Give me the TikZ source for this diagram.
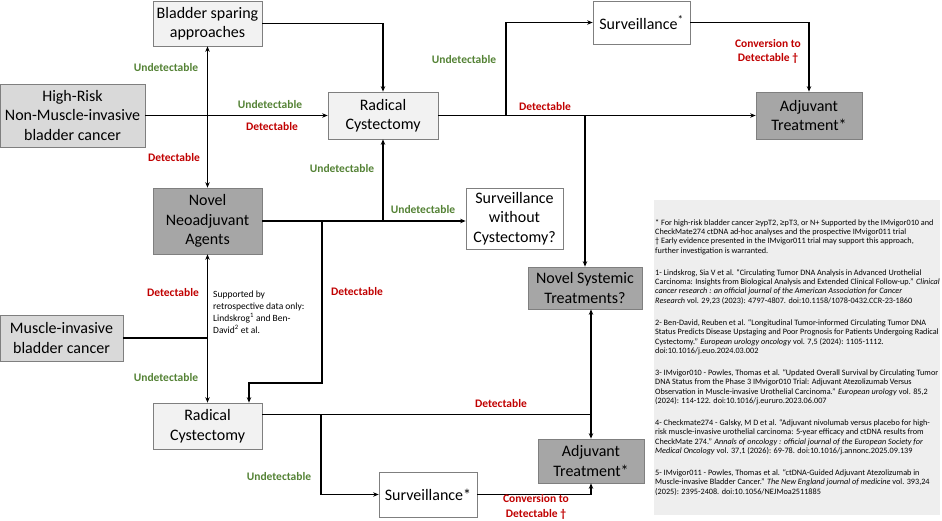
\documentclass[tikz,border=0pt]{standalone}
\usepackage{fontspec}
\setmainfont{Carlito}
\newfontfamily\symfont{Liberation Sans}
\usetikzlibrary{arrows.meta}

\definecolor{lightbox}{HTML}{F2F2F2}
\definecolor{midbox}{HTML}{D9D9D9}
\definecolor{darkbox}{HTML}{A6A6A6}
\definecolor{edgegray}{HTML}{7F7F7F}
\definecolor{detred}{HTML}{C00000}
\definecolor{undetgreen}{HTML}{548235}
\definecolor{refgray}{HTML}{EEEEEE}

\tikzstyle{box} = [
    rectangle,
    draw=edgegray,
    line width=0.7pt,
    align=center,
    inner sep=0pt,
    font=\fontsize{16}{19.5}\selectfont
]
\tikzstyle{surgery} = [box, fill=lightbox]
\tikzstyle{disease} = [box, fill=midbox]
\tikzstyle{therapy} = [box, fill=darkbox]
\tikzstyle{watch} = [box, fill=white]
\tikzstyle{det} = [
    text=detred,
    align=center,
    font=\fontsize{11.5}{14.5}\selectfont\bfseries
]
\tikzstyle{undet} = [
    text=undetgreen,
    font=\fontsize{11.5}{14.5}\selectfont\bfseries
]
\tikzstyle{link} = [line width=1.3pt]
\tikzstyle{arrow} = [link,->,>={Stealth[length=5.5pt,width=4.5pt]}]

\begin{document}
\begin{tikzpicture}[x=1pt, y=-1pt]

\useasboundingbox (0,0) rectangle (942,521);

% boxes
\node (sparing) [surgery, minimum width=109pt, minimum height=45pt] at (207.5,23.5)
{Bladder sparing\\approaches};

\node (hrnmibc) [disease, minimum width=145pt, minimum height=63pt] at (72.5,115.5)
{High-Risk\\Non-Muscle-invasive\\bladder cancer};

\node (rctop) [surgery, minimum width=110pt, minimum height=47pt] at (383,115.5)
{Radical\\Cystectomy};

\node (neoadj) [therapy, minimum width=109pt, minimum height=66pt] at (207.5,221)
{Novel\\Neoadjuvant\\Agents};

\node (survtop) [watch, minimum width=97pt, minimum height=43pt] at (641.5,22.5)
{Surveillance\textsuperscript{*}};

\node (adjtop) [therapy, minimum width=106pt, minimum height=47pt] at (809,115.5)
{Adjuvant\\Treatment*};

\node (nocyst) [watch, minimum width=97pt, minimum height=61pt] at (514.5,218.5)
{Surveillance\\without\\Cystectomy?};

\node (systemic) [therapy, minimum width=114pt, minimum height=42pt] at (585,288)
{Novel Systemic\\Treatments?};

\node (mibc) [disease, minimum width=123pt, minimum height=46pt] at (61.5,338)
{Muscle-invasive\\bladder cancer};

\node (rcbot) [surgery, minimum width=109pt, minimum height=46pt] at (207.5,426)
{Radical\\Cystectomy};

\node (survbot) [watch, minimum width=98pt, minimum height=45pt] at (428,494.5)
{Surveillance*};

\node (adjbot) [therapy, minimum width=106pt, minimum height=44pt] at (591,461)
{Adjuvant\\Treatment*};

% junctions
\coordinate (hrcross) at (sparing.south |- hrnmibc.east);
\coordinate (splitrc) at (506,115.5);
\coordinate (splitneo) at (322,221);
\coordinate (bendneo) at (249,383);
\coordinate (micross) at (mibc.east -| neoadj.south);
\coordinate (rcout) at ([yshift=-12pt]rcbot.north east);
\coordinate (splitadj) at (rcout -| adjbot.north);
\coordinate (splitsurv) at (321,415);

% connectors
\draw [arrow] (hrnmibc) -- (rctop);
\draw [arrow] (hrcross) -- (sparing);
\draw [arrow] (hrcross) -- (neoadj);
\draw [arrow] (sparing.east) -| (rctop.north);
\draw [arrow] (rctop) -- (adjtop);
\draw [arrow] (splitrc) |- (survtop.west);
\draw [arrow] (survtop.east) -| (adjtop.north);
\draw [arrow] (systemic.north |- rctop.east) -- (systemic);
\draw [arrow] (neoadj.east) -- (neoadj.east -| nocyst.west);
\draw [arrow] (rctop.south |- neoadj.east) -- (rctop);
\draw [arrow] (splitneo) |- (bendneo) -- (bendneo |- rcbot.north);
\draw [link] (mibc.east) -- (micross);
\draw [arrow] (micross) -- (neoadj);
\draw [arrow] (micross) -- (rcbot);
\draw [link] (rcout) -- (splitadj);
\draw [arrow] (splitadj) -- (splitadj |- systemic.south);
\draw [arrow] (splitadj) -- (adjbot);
\draw [arrow] (splitsurv) |- (survbot.west);
\draw [arrow] (survbot.east) -| (adjbot.south);

% ctDNA labels
\node (u1) [undet] at (166,68) {Undetectable};
\node (d1) [det] at (174,158) {Detectable};
\node (u2) [undet] at (270,105) {Undetectable};
\node (d2) [det] at (272,127) {Detectable};
\node (u3) [undet] at (464,60) {Undetectable};
\node (d3) [det] at (545,107) {Detectable};
\node (c1) [det] at (768,51.5) {Conversion to\\Detectable †};
\node (u4) [undet] at (342,169) {Undetectable};
\node (u5) [undet] at (423,210) {Undetectable};
\node (d4) [det] at (357,292) {Detectable};
\node (d5) [det] at (173,293) {Detectable};
\node (u6) [undet] at (166,378) {Undetectable};
\node (d6) [det] at (501,404) {Detectable};
\node (u7) [undet] at (279,477) {Undetectable};
\node (c2) [det] at (536,507) {Conversion to\\Detectable †};

\node (note) [anchor=north west, align=left, inner sep=0pt,
    font=\fontsize{9.5}{12}\selectfont] at (213,291)
{Supported by\\retrospective data only:\\Lindskrog\textsuperscript{1} and Ben-\\David\textsuperscript{2} et al.};

% references panel
\node (refbox) [fill=refgray, anchor=north west, inner sep=0pt,
    minimum width=286pt, minimum height=315pt] at (654,200) {};

\node (refs) [anchor=north west, align=left, inner sep=0pt,
    font=\fontsize{8.2}{9.4}\selectfont] at (655,219)
{* For high-risk bladder cancer {\symfont ≥}ypT2, {\symfont ≥}pT3, or N+ Supported by the IMvigor010 and\\
CheckMate274 ctDNA ad-hoc analyses and the prospective IMvigor011 trial\\
† Early evidence presented in the IMvigor011 trial may support this approach,\\
further investigation is warranted.\\[12.5pt]
1- Lindskrog, Sia V et al. “Circulating Tumor DNA Analysis in Advanced Urothelial\\
Carcinoma: Insights from Biological Analysis and Extended Clinical Follow-up.” \textit{Clinical}\\
\textit{cancer research : an official journal of the American Association for Cancer}\\
\textit{Research} vol. 29,23 (2023): 4797-4807. doi:10.1158/1078-0432.CCR-23-1860\\[12.5pt]
2- Ben-David, Reuben et al. “Longitudinal Tumor-informed Circulating Tumor DNA\\
Status Predicts Disease Upstaging and Poor Prognosis for Patients Undergoing Radical\\
Cystectomy.” \textit{European urology oncology} vol. 7,5 (2024): 1105-1112.\\
doi:10.1016/j.euo.2024.03.002\\[12.5pt]
3- IMvigor010 - Powles, Thomas et al. “Updated Overall Survival by Circulating Tumor\\
DNA Status from the Phase 3 IMvigor010 Trial: Adjuvant Atezolizumab Versus\\
Observation in Muscle-invasive Urothelial Carcinoma.” \textit{European urology} vol. 85,2\\
(2024): 114-122. doi:10.1016/j.eururo.2023.06.007\\[12.5pt]
4- Checkmate274 - Galsky, M D et al. “Adjuvant nivolumab versus placebo for high-\\
risk muscle-invasive urothelial carcinoma: 5-year efficacy and ctDNA results from\\
CheckMate 274.” \textit{Annals of oncology : official journal of the European Society for}\\
\textit{Medical Oncology} vol. 37,1 (2026): 69-78. doi:10.1016/j.annonc.2025.09.139\\[12.5pt]
5- IMvigor011 - Powles, Thomas et al. “ctDNA-Guided Adjuvant Atezolizumab in\\
Muscle-invasive Bladder Cancer.” \textit{The New England journal of medicine} vol. 393,24\\
(2025): 2395-2408. doi:10.1056/NEJMoa2511885};

\end{tikzpicture}
\end{document}
